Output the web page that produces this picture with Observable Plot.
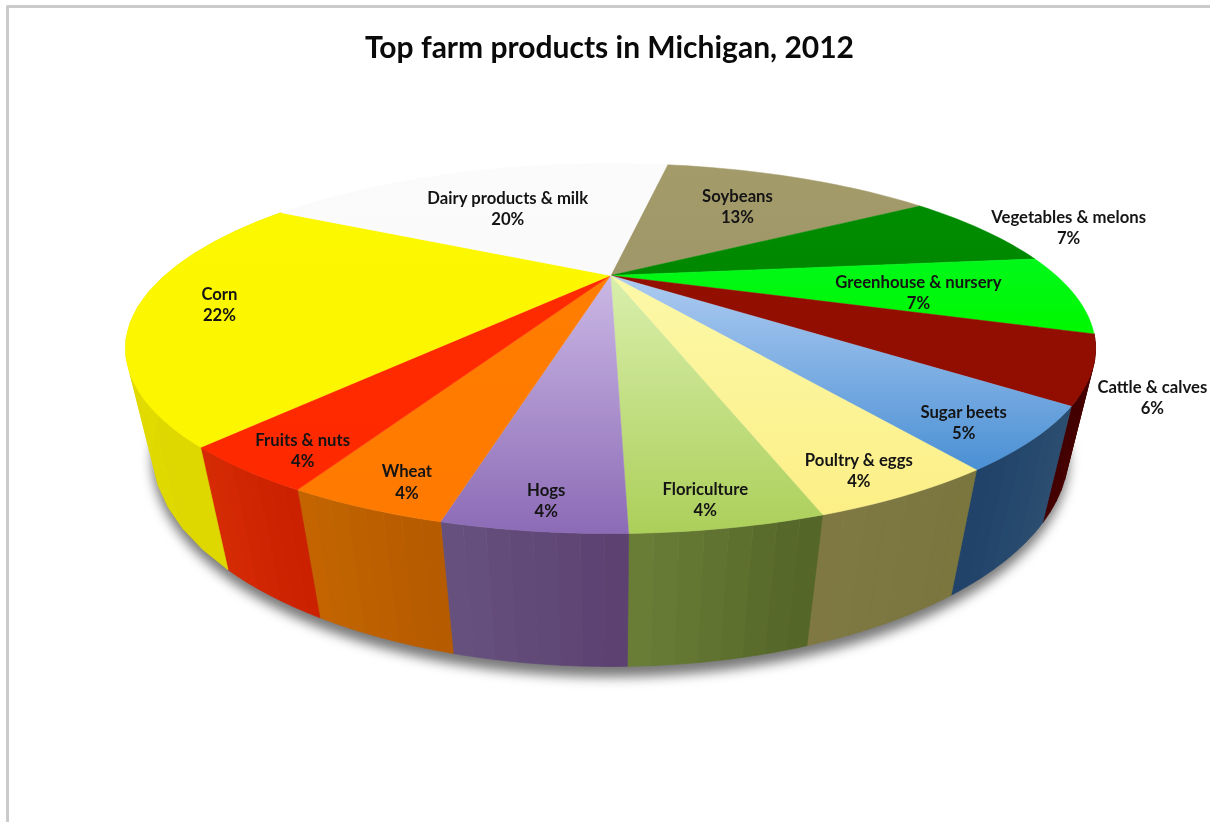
<!DOCTYPE html>
<html>
<head>
<meta charset="utf-8">
<script src="https://cdn.jsdelivr.net/npm/d3@7"></script>
<script src="https://cdn.jsdelivr.net/npm/@observablehq/plot@0.6"></script>
<style>
html,body{margin:0;padding:0;background:#fff;overflow:hidden}
#frame{position:absolute;left:6px;top:5px;width:1210px;height:830px;border-top:3px solid #cbcbcb;border-left:3px solid #cbcbcb;border-top-left-radius:2px}
#title{position:absolute;left:0;top:28px;width:1219px;text-align:center;font:700 30px Lato,"Open Sans",sans-serif;color:#0a0a0a;filter:blur(.4px)}
#chart{position:absolute;left:0;top:0}
</style>
</head>
<body>
<div id="frame"></div>
<div id="title">Top farm products in Michigan, 2012</div>
<div id="chart"></div>
<script>
// Data, clockwise from the top of the pie
const products = ["Soybeans","Vegetables & melons","Greenhouse & nursery","Cattle & calves","Sugar beets","Poultry & eggs","Floriculture","Hogs","Wheat","Fruits & nuts","Corn","Dairy products & milk"];
const shares = [13.1,7.3,7.05,5.55,4.88,4.49,4.4,4.17,3.75,3.55,21.85,19.9];

// Styling
const topColors = [["#a49b6a","#a0976a"],["#008c00","#008800"],["#00f81a","#00f800"],["#930f00","#900d00"],["#aecbf1","#4a90d4"],["#fbf8a8","#fcef86"],["#d9efac","#accf5a"],["#cbb8e5","#8c6bb6"],["#ff7d00","#ff7a00"],["#ff2b00","#ff2900"],["#fcf800","#fcf600"],["#fbfbfb","#fafafa"]];
const sideColors = [null,null,null,["#4a0000","#420000"],["#2c4f70","#20426a"],["#7a763e","#7f7843"],["#526427","#6b7f38"],["#5b4070","#67527f"],["#b55a00","#c46500"],["#cb2000","#d62b04"],["#dfd800","#e6de00"],null];

// Label placement on the pie: angle (degrees clockwise from the back) and radius
const labelAngles = [33.2,73.7,99.5,122.9,140,156,171.6,185.7,199,211.5,257.7,331.4];
const labelRadii = [.628,1.215,.67,1.105,.898,.917,.928,.925,.921,.915,.835,.578];

// View of the pie: a perspective mapping of a unit disc of unit depth
const startAngle = 10.2, depthK = -0.3946;
const project = (deg, r = 1, h = 0) => {
  const a = deg * Math.PI / 180, u = r * Math.sin(a), v = -r * Math.cos(a);
  const w = 1 + depthK * v + 0.05 * h;
  return {x: 610 + 445.7 * u / w, y: (275 + 47.7 * v + 113.8 * h) / w};
};

const total = d3.sum(shares);
let cum = startAngle;
const slices = products.map((name, i) => {
  const a0 = cum, a1 = cum + shares[i] / total * 360;
  cum = a1;
  return {name, i, a0, a1, share: shares[i] / total};
});

const topRows = [], stripRows = [], shadowRows = [];
for (const s of slices) {
  const n = Math.max(2, Math.ceil((s.a1 - s.a0) / 1.5));
  const id = "top" + s.i, fill = `url(#g${s.i})`;
  topRows.push({...project(0, 0), id, fill});
  for (let k = 0; k <= n; k++) topRows.push({...project(s.a0 + (s.a1 - s.a0) * k / n), id, fill});
  topRows.push({...project(0, 0), id, fill});
  if (sideColors[s.i]) {
    const m = 8, mix = d3.interpolateRgb(...sideColors[s.i]);
    for (let j = 0; j < m; j++) {
      const b0 = s.a0 + (s.a1 - s.a0) * j / m, b1 = s.a0 + (s.a1 - s.a0) * (j + 1) / m, bm = (b0 + b1) / 2;
      const fill = d3.rgb(mix((j + .5) / m)).formatHex();
      const sid = `s${s.i}-${j}`;
      const pts = [project(b0), project(bm), project(b1), project(b1, 1, 1), project(bm, 1, 1), project(b0, 1, 1), project(b0)];
      for (const p of pts) stripRows.push({...p, id: sid, fill});
    }
  }
}
for (let d = 90; d <= 270; d += 2) shadowRows.push(project(d, 1.004, 1.07));
for (let d = 270; d >= 90; d -= 2) shadowRows.push(project(d, .9, .5));

const labelRows = slices.map((s, i) => ({
  ...project(labelAngles[i], labelRadii[i]),
  text: `${s.name}\n${d3.format(".0%")(s.share)}`
}));

const defs = () => {
  const el = d3.create("svg:defs");
  topColors.forEach((c, i) => {
    const g = el.append("linearGradient").attr("id", "g" + i).attr("x1", 0).attr("x2", 0).attr("y1", 0).attr("y2", 1);
    g.append("stop").attr("offset", "0%").attr("stop-color", c[0]);
    g.append("stop").attr("offset", "100%").attr("stop-color", c[1]);
  });
  return el.node();
};

const plot = Plot.plot({
  width: 1210, height: 822, margin: 0,
  x: {domain: [0, 1210], range: [0, 1210], axis: null},
  y: {domain: [0, 822], range: [0, 822], axis: null},
  color: {type: "identity"},
  style: {background: "transparent"},
  marks: [
    defs,
    Plot.line(shadowRows, {x: "x", y: "y", fill: "#4c4c4c", stroke: "none", imageFilter: "blur(6px)", fillOpacity: .75}),
    Plot.line(stripRows, {x: "x", y: "y", z: "id", fill: d => d.fill, stroke: d => d.fill, strokeWidth: .7}),
    Plot.line(topRows, {x: "x", y: "y", z: "id", fill: d => d.fill, stroke: d => d.fill, strokeWidth: .5}),
    Plot.text(labelRows, {x: "x", y: "y", dy: -1.5, text: "text", fontFamily: "Lato, 'Open Sans', sans-serif", fontWeight: 700, fontSize: 16.7, lineHeight: 1.26, fill: "#141414"})
  ]
});
plot.style.filter = "blur(.45px)";
document.getElementById("chart").append(plot);
</script>
</body>
</html>
